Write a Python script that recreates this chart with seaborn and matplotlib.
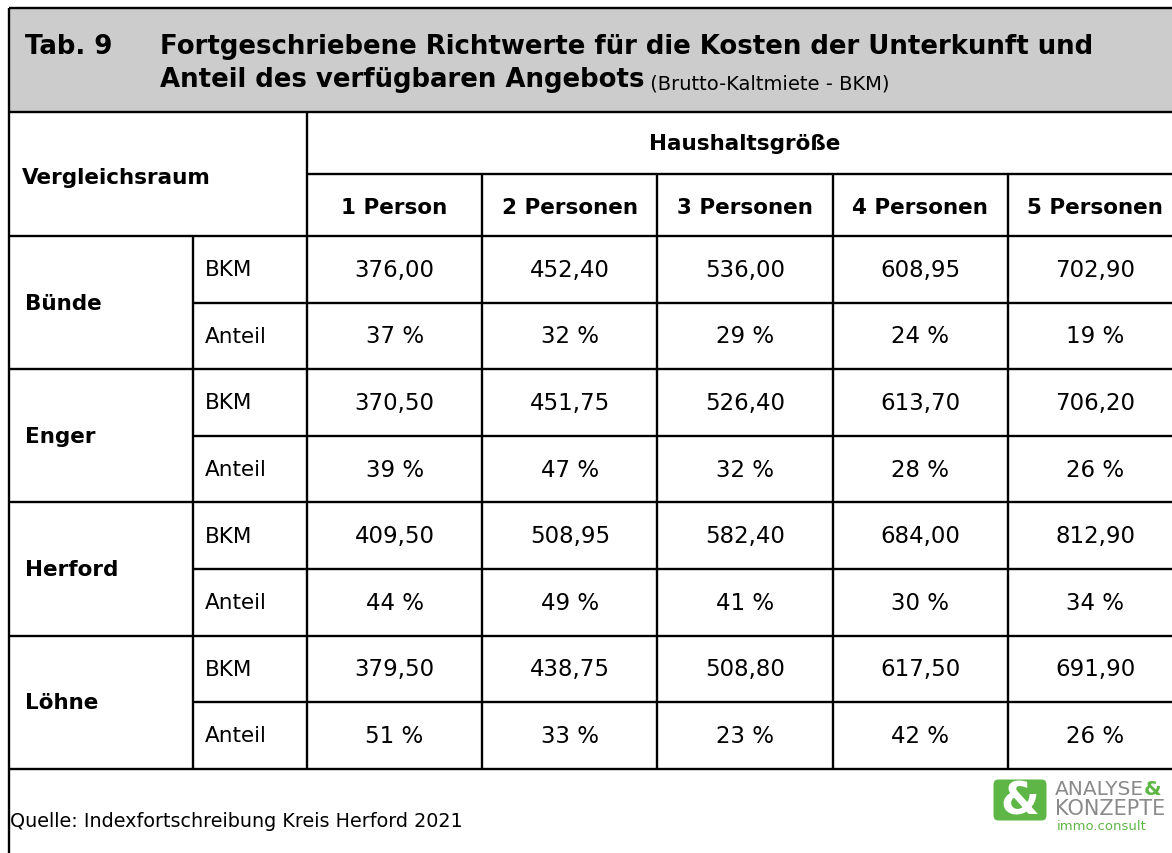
import matplotlib
matplotlib.use("Agg")
import matplotlib.pyplot as plt
import seaborn as sns
from matplotlib.patches import Rectangle, FancyBboxPatch

# table content
regions = ["Bünde", "Enger", "Herford", "Löhne"]
row_labels = ["BKM", "Anteil"]
household_sizes = ["1 Person", "2 Personen", "3 Personen", "4 Personen", "5 Personen"]
bkm = [
    [376.00, 452.40, 536.00, 608.95, 702.90],
    [370.50, 451.75, 526.40, 613.70, 706.20],
    [409.50, 508.95, 582.40, 684.00, 812.90],
    [379.50, 438.75, 508.80, 617.50, 691.90],
]
anteil = [
    [37, 32, 29, 24, 19],
    [39, 47, 32, 28, 26],
    [44, 49, 41, 30, 34],
    [51, 33, 23, 42, 26],
]
title_no = "Tab. 9"
title_line1 = "Fortgeschriebene Richtwerte für die Kosten der Unterkunft und"
title_line2 = "Anteil des verfügbaren Angebots"
title_note = " (Brutto-Kaltmiete - BKM)"
source = "Quelle: Indexfortschreibung Kreis Herford 2021"

sns.set_theme(style="white")
plt.rcParams["font.family"] = ["DejaVu Sans"]
plt.rcParams["text.color"] = "black"

W, H = 1172, 854
fig = plt.figure(figsize=(W / 100, H / 100), dpi=100)
ax = fig.add_axes([0, 0, 1, 1])
ax.set_xlim(0, W)
ax.set_ylim(H, 0)
ax.axis("off")

LW = 1.7
x_left, x_reg, x_lab = 9, 193, 307
col_w = 175.2
x_right = x_lab + 5 * col_w
y_top, y_head, y_sub, y_data = 9, 112.5, 175, 237
row_h = 66.6
y_bottom = y_data + 8 * row_h
FS = 16.5     # regular cell text
FSB = 15.5    # bold header text

# grey title block
ax.add_patch(Rectangle((x_left, y_top), x_right - x_left, y_head - y_top,
                       facecolor="#cccccc", edgecolor="none", zorder=0))
ax.text(25, 47, title_no, fontsize=18.7, fontweight="bold", va="center")
ax.text(160, 47, title_line1, fontsize=18.7, fontweight="bold", va="center")
t2 = ax.text(160, 80, title_line2, fontsize=18.7, fontweight="bold", va="center")
ax.annotate(title_note, xy=(1, 0), xycoords=t2, va="bottom", ha="left",
            fontsize=14, color="black")

# grid lines
def hline(y, x0, x1=x_right):
    ax.plot([x0, x1], [y, y], color="black", lw=LW, solid_capstyle="butt")

def vline(x, y0, y1):
    ax.plot([x, x], [y0, y1], color="black", lw=LW, solid_capstyle="butt")

hline(y_top, x_left)
hline(y_head, x_left)
hline(y_sub, x_lab)
hline(y_data, x_left)
for i in range(1, 9):
    y = y_data + i * row_h
    hline(y, x_left if i % 2 == 0 else x_reg)
vline(x_left, y_top, H)
vline(x_reg, y_data, y_bottom)
vline(x_lab, y_head, y_bottom)
for j in range(1, 6):
    vline(x_lab + j * col_w, y_sub, y_bottom)

# header text
ax.text(22, (y_head + y_data) / 2 + 3, "Vergleichsraum", fontsize=FSB, fontweight="bold", va="center")
ax.text((x_lab + x_right) / 2, (y_head + y_sub) / 2, "Haushaltsgröße",
        fontsize=FSB, fontweight="bold", va="center", ha="center")
for j, name in enumerate(household_sizes):
    ax.text(x_lab + (j + 0.5) * col_w, (y_sub + y_data) / 2 + 2, name,
            fontsize=FSB, fontweight="bold", va="center", ha="center")

# body
for i, reg in enumerate(regions):
    y0 = y_data + 2 * i * row_h
    ax.text(25, y0 + row_h, reg, fontsize=FSB, fontweight="bold", va="center")
    for k, lab in enumerate(row_labels):
        ax.text(205, y0 + (k + 0.5) * row_h, lab, fontsize=FS - 1, va="center")
    for j in range(5):
        cx = x_lab + (j + 0.5) * col_w
        ax.text(cx, y0 + 0.5 * row_h, f"{bkm[i][j]:.2f}".replace(".", ","),
                fontsize=FS, va="center", ha="center")
        ax.text(cx, y0 + 1.5 * row_h, f"{anteil[i][j]} %",
                fontsize=FS, va="center", ha="center")

# footer
ax.text(10, 822, source, fontsize=13.8, va="center")

# logo
green = "#5db645"
grey = "#8a8a8a"
ax.add_patch(FancyBboxPatch((995, 782), 50, 38, boxstyle="round,pad=1.5,rounding_size=5",
                            facecolor=green, edgecolor="none"))
ax.text(1020, 802, "&", fontsize=32, fontweight="bold", color="white", ha="center", va="center")
la = ax.text(1055, 799, "ANALYSE", fontsize=14.5, color=grey, va="bottom")
ax.annotate("&", xy=(1, 0), xycoords=la, va="bottom", ha="left",
            fontsize=14.5, color=green, fontweight="bold")
kz = ax.text(1055, 799.5, "KONZEPTE", fontsize=15, color=grey, va="top")
ax.annotate("immo.consult", xy=(0, 0), xycoords=kz, xytext=(1, -0.5),
            textcoords="offset points", va="top", ha="left",
            fontsize=9.5, color=green)

fig.savefig("out.png", dpi=100, facecolor="white")
